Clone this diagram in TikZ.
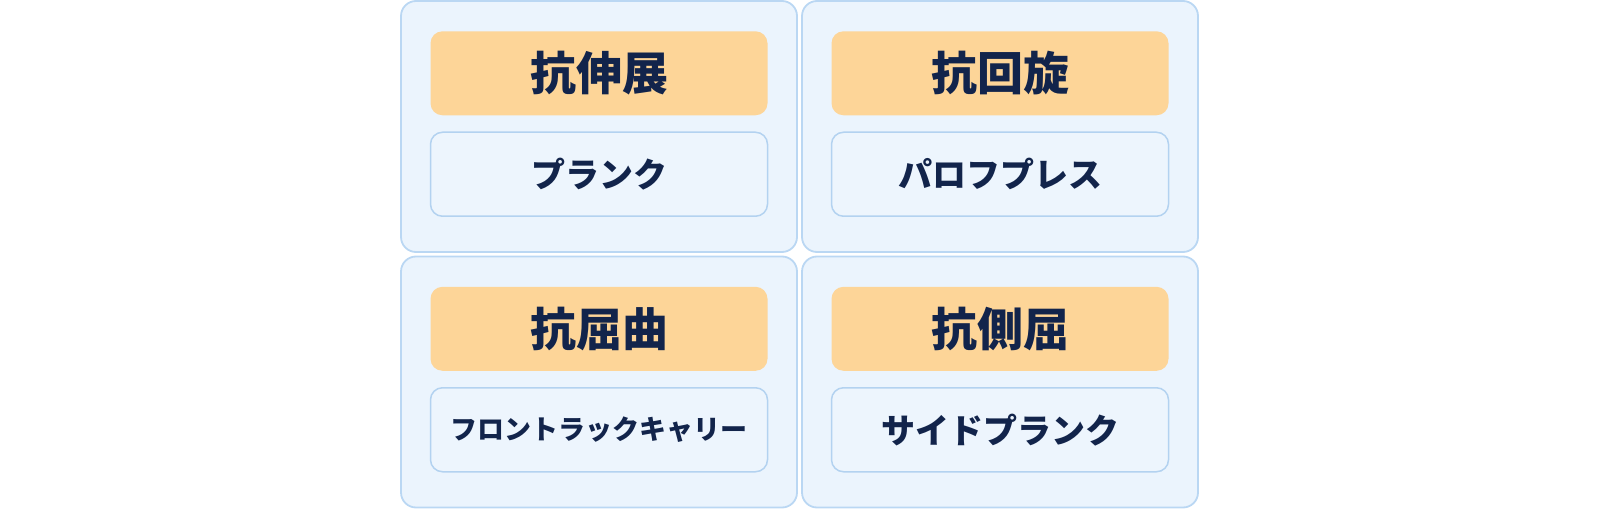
\documentclass[tikz,border=0pt]{standalone}
\usepackage{fontspec}
\newfontfamily\jp{Noto Sans CJK JP}
\usetikzlibrary{positioning}
\definecolor{panelfill}{HTML}{EBF4FD}
\definecolor{panelline}{HTML}{BAD7F3}
\definecolor{itemfill}{HTML}{EDF5FD}
\definecolor{itemline}{HTML}{B3D2F0}
\definecolor{headfill}{HTML}{FDD598}
\definecolor{ink}{HTML}{12244B}

\begin{document}
\begin{tikzpicture}[x=1pt, y=1pt,
  panel/.style={draw=panelline, fill=panelfill, line width=1.8pt, rounded corners=15pt, minimum width=396pt, minimum height=251pt, inner sep=0pt},
  head/.style={fill=headfill, rounded corners=12pt, minimum width=337pt, minimum height=84pt, inner sep=0pt, text=ink, font=\jp\bfseries\fontsize{46}{50}\selectfont},
  item/.style={draw=itemline, fill=itemfill, line width=1.5pt, rounded corners=12pt, minimum width=337pt, minimum height=84pt, inner sep=0pt, text=ink, font=\jp\bfseries\fontsize{34}{38}\selectfont}]
\useasboundingbox (0,0) rectangle (1600,509);
\node [panel] (ext) at (599,382.5) {};
\node [head, below=31pt of ext.north] (exth) {抗伸展};
\node [item, below=16pt of exth] (exti) {プランク};
\node [panel] (rot) at (1000,382.5) {};
\node [head, below=31pt of rot.north] (roth) {抗回旋};
\node [item, below=16pt of roth] (roti) {パロフプレス};
\node [panel] (flex) at (599,127) {};
\node [head, below=31pt of flex.north] (flexh) {抗屈曲};
\node [item, below=16pt of flexh, font=\jp\bfseries\fontsize{27}{30}\selectfont] (flexi) {フロントラックキャリー};
\node [panel] (lat) at (1000,127) {};
\node [head, below=31pt of lat.north] (lath) {抗側屈};
\node [item, below=16pt of lath] (lati) {サイドプランク};
\end{tikzpicture}
\end{document}
